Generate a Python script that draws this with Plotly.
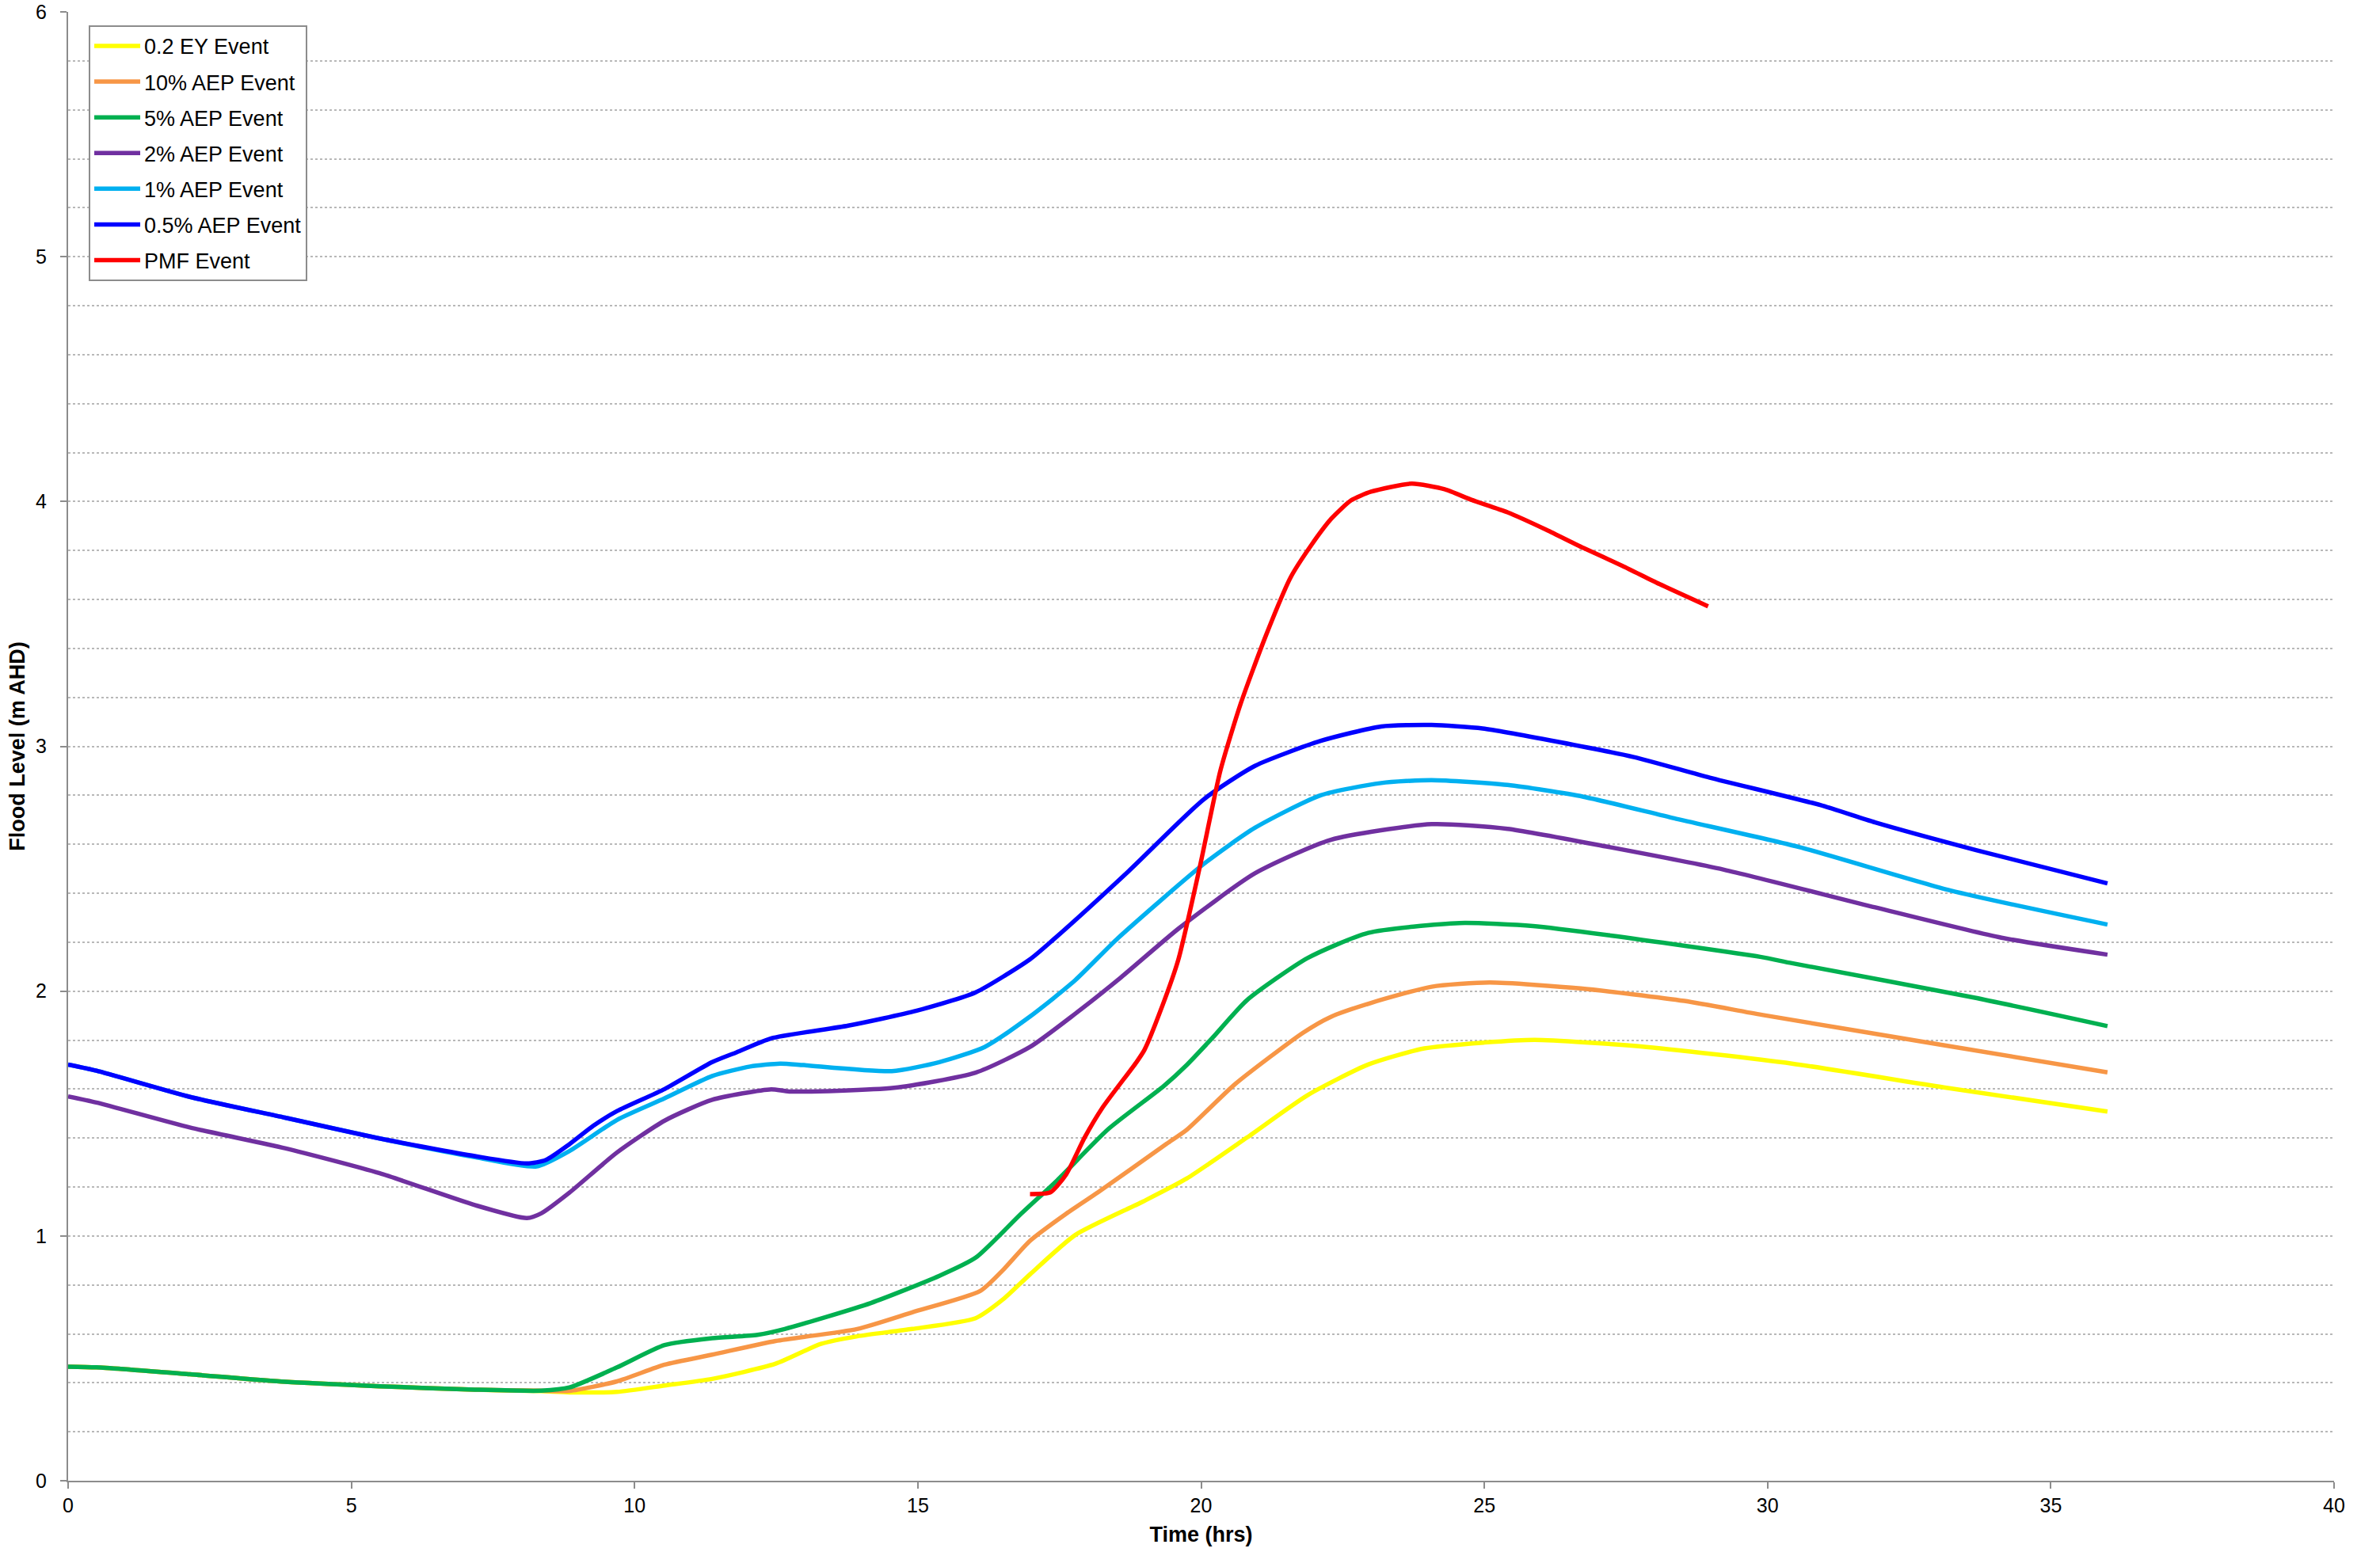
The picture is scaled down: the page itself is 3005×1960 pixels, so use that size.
import plotly.graph_objects as go

# ---------------- data ----------------
series_names = ["0.2 EY Event", "10% AEP Event", "5% AEP Event", "2% AEP Event",
                "1% AEP Event", "0.5% AEP Event", "PMF Event"]
series_colors = ["#FFFF00", "#F79646", "#00B050", "#7030A0", "#00B0F0", "#0000FF", "#FF0000"]

t_ey02 = [0, 0.5, 2.15, 3.83, 5.5, 7.18, 8.35, 8.85, 9.69, 10.53, 11.37, 12.49, 13.29, 13.93,
          14.9, 16.02, 16.5, 16.98, 17.78, 18.98, 19.75, 20.81, 21.88, 22.95, 23.94, 25.0,
          25.89, 27.76, 30.43, 33.11, 36.0]
v_ey02 = [0.466, 0.463, 0.435, 0.404, 0.386, 0.372, 0.366, 0.361, 0.363, 0.389, 0.416, 0.478,
          0.559, 0.59, 0.62, 0.664, 0.74, 0.843, 1.004, 1.141, 1.235, 1.402, 1.575, 1.70, 1.766,
          1.79, 1.801, 1.774, 1.704, 1.607, 1.508]

t_aep10 = [0, 0.5, 2.15, 3.83, 5.5, 7.18, 8.35, 8.85, 9.69, 10.53, 11.37, 12.49, 13.93, 14.9,
           16.1, 16.5, 16.98, 17.62, 18.18, 19.39, 19.75, 20.6, 21.8, 22.29, 23.0, 24.07, 25.09,
           26.7, 28.53, 29.9, 33.11, 36.0]
v_aep10 = [0.466, 0.463, 0.435, 0.404, 0.386, 0.372, 0.368, 0.367, 0.406, 0.474, 0.515, 0.571,
           0.62, 0.688, 0.775, 0.86, 0.98, 1.091, 1.178, 1.376, 1.434, 1.62, 1.83, 1.895, 1.952,
           2.018, 2.035, 2.011, 1.96, 1.903, 1.779, 1.668]

t_aep5 = [0, 0.5, 2.15, 3.83, 5.5, 7.18, 8.35, 8.85, 9.69, 10.53, 11.37, 12.17, 12.65, 14.17,
          15.38, 16.02, 16.82, 17.46, 18.36, 19.34, 19.75, 20.2, 20.81, 21.88, 22.95, 24.56,
          25.86, 27.23, 29.87, 30.43, 33.64, 36.0]
v_aep5 = [0.466, 0.463, 0.435, 0.404, 0.386, 0.372, 0.368, 0.381, 0.463, 0.554, 0.582, 0.596,
          0.62, 0.726, 0.837, 0.911, 1.09, 1.227, 1.436, 1.612, 1.699, 1.809, 1.963, 2.135,
          2.238, 2.278, 2.266, 2.227, 2.14, 2.114, 1.974, 1.857]

t_aep2 = [0, 0.5, 2.15, 3.83, 5.5, 7.18, 8.1, 8.35, 8.85, 9.69, 10.53, 11.37, 12.41, 12.73,
          14.58, 16.02, 16.98, 17.78, 18.59, 19.61, 20.95, 22.29, 24.07, 25.41, 27.19, 29.23,
          31.9, 34.13, 36.0]
v_aep2 = [1.57, 1.545, 1.443, 1.358, 1.256, 1.126, 1.073, 1.092, 1.177, 1.341, 1.471, 1.556,
          1.599, 1.59, 1.605, 1.667, 1.772, 1.908, 2.057, 2.257, 2.481, 2.618, 2.682, 2.663,
          2.589, 2.496, 2.342, 2.218, 2.149]

t_aep1 = [0, 0.5, 2.15, 3.83, 5.5, 7.18, 8.27, 8.85, 9.69, 10.53, 11.37, 12.04, 12.57, 12.98,
          14.54, 15.38, 16.18, 16.98, 17.78, 18.54, 20.05, 20.95, 22.11, 23.18, 24.07, 25.41,
          26.75, 28.35, 30.55, 33.23, 36.0]
v_aep1 = [1.70, 1.675, 1.568, 1.483, 1.398, 1.322, 1.284, 1.347, 1.474, 1.562, 1.653, 1.692,
          1.704, 1.698, 1.673, 1.71, 1.772, 1.896, 2.045, 2.218, 2.52, 2.667, 2.80, 2.85, 2.862,
          2.842, 2.794, 2.706, 2.589, 2.411, 2.272]

t_aep05 = [0, 0.5, 2.15, 3.83, 5.5, 7.18, 8.1, 8.43, 8.85, 9.27, 9.69, 10.53, 11.37, 11.8,
           12.41, 13.77, 14.98, 16.02, 16.98, 17.38, 18.72, 20.05, 20.95, 22.11, 23.18, 24.07,
           24.97, 26.31, 27.64, 28.98, 30.93, 31.9, 33.68, 36.0]
v_aep05 = [1.70, 1.675, 1.568, 1.483, 1.398, 1.326, 1.296, 1.31, 1.375, 1.45, 1.51, 1.60, 1.71,
           1.75, 1.807, 1.859, 1.92, 1.995, 2.13, 2.208, 2.49, 2.784, 2.92, 3.022, 3.081, 3.087,
           3.073, 3.018, 2.956, 2.872, 2.76, 2.689, 2.576, 2.44]

t_pmf = [16.98, 17.34, 17.62, 17.94, 18.26, 18.86, 19.0, 19.3, 19.6, 19.98, 20.34, 20.7, 21.14,
         21.58, 21.94, 22.3, 22.65, 23.0, 23.72, 24.3, 24.77, 25.41, 26.1, 26.75, 27.44, 28.09,
         28.95]
v_pmf = [1.171, 1.178, 1.252, 1.40, 1.524, 1.71, 1.76, 1.93, 2.13, 2.51, 2.90, 3.175, 3.45,
         3.69, 3.82, 3.93, 4.005, 4.04, 4.073, 4.05, 4.007, 3.956, 3.884, 3.81, 3.737, 3.663,
         3.572]

x_ticks = [0, 5, 10, 15, 20, 25, 30, 35, 40]
y_ticks = [0, 1, 2, 3, 4, 5, 6]

x_title = "Time (hrs)"
y_title = "Flood Level (m AHD)"

# ---------------- figure ----------------
all_t = [t_ey02, t_aep10, t_aep5, t_aep2, t_aep1, t_aep05, t_pmf]
all_v = [v_ey02, v_aep10, v_aep5, v_aep2, v_aep1, v_aep05, v_pmf]

FONT = "Arial, 'Liberation Sans', sans-serif"

fig = go.Figure()
for i, (name, col, tt, vv) in enumerate(zip(series_names, series_colors, all_t, all_v)):
    fig.add_trace(go.Scatter(
        x=tt, y=vv, name=name, mode="lines",
        line=dict(color=col, width=5.5, shape="spline", smoothing=0.6),
        legendgroup=f"g{i}",
    ))

fig.update_layout(
    width=3005, height=1960,
    paper_bgcolor="white", plot_bgcolor="white",
    margin=dict(l=86, r=58, t=15, b=90),
    font=dict(family=FONT, size=25, color="black"),
    showlegend=True,
    legend=dict(
        x=0.0091, y=0.9909, xanchor="left", yanchor="top",
        bgcolor="white", bordercolor="#8c8c8c", borderwidth=2,
        font=dict(family=FONT, size=27, color="black"),
        tracegroupgap=7, itemwidth=58,
    ),
    xaxis=dict(
        range=[0, 40], tickvals=x_ticks, ticktext=[str(v) for v in x_ticks],
        showgrid=False, zeroline=False,
        showline=True, linecolor="#8c8c8c", linewidth=2,
        ticks="outside", ticklen=8, tickwidth=1.5, tickcolor="#8c8c8c",
        tickfont=dict(size=25), ticklabelstandoff=0,
        title=dict(text=f"<b>{x_title}</b>", font=dict(size=27), standoff=14),
        automargin=False,
    ),
    yaxis=dict(
        range=[0, 6], tickvals=y_ticks, ticktext=[str(v) for v in y_ticks],
        showgrid=True, gridcolor="#b8b8b8", gridwidth=1.5, griddash="dot",
        minor=dict(dtick=0.2, showgrid=True, gridcolor="#b8b8b8", gridwidth=1.5,
                   griddash="dot", ticks=""),
        zeroline=False,
        showline=True, linecolor="#8c8c8c", linewidth=2,
        ticks="outside", ticklen=8, tickwidth=1.5, tickcolor="#8c8c8c",
        tickfont=dict(size=25), ticklabelstandoff=12,
        title=dict(text=f"<b>{y_title}</b>", font=dict(size=27), standoff=6),
        automargin=False,
    ),
)

fig.write_html("out.html", config={"displayModeBar": False},
               post_script="document.body.style.margin='0';")
